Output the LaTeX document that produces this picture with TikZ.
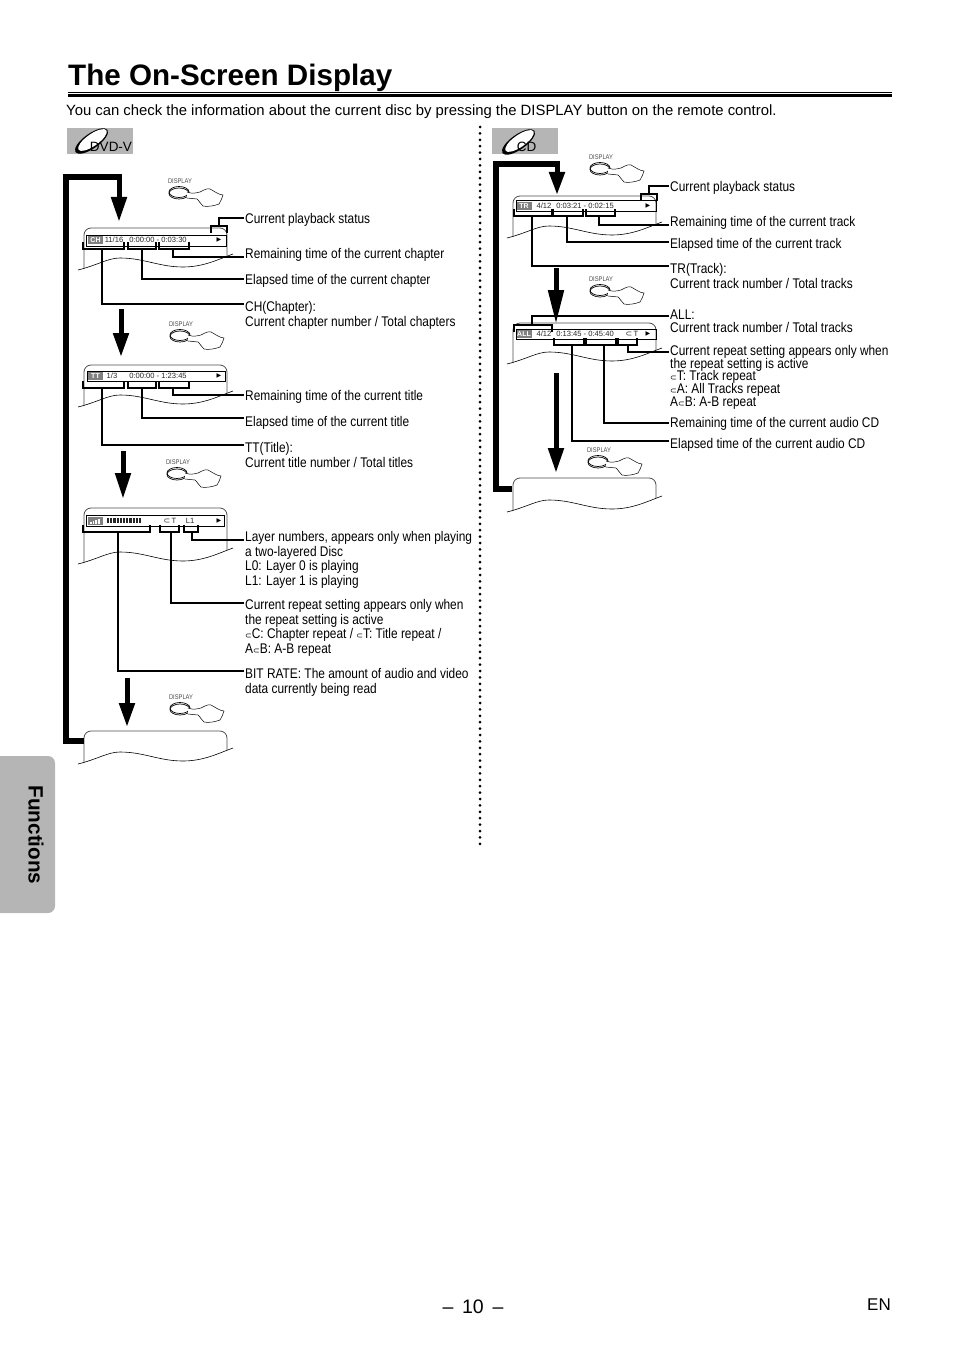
\documentclass[tikz,border=0pt]{standalone}
\usepackage{fontspec}
\setmainfont{Liberation Sans}
\newfontfamily\narrowfont[FakeStretch=0.85]{Liberation Sans}
\newfontfamily\symfont{DejaVu Sans}
\usetikzlibrary{arrows.meta,positioning}
\definecolor{tabgray}{HTML}{B5B5B5}
\definecolor{taggray}{HTML}{808080}
\newcommand{\rptmark}{{\symfont\fontsize{8}{8}\selectfont ⊂}}
\newcommand{\tightlines}{\lineskiplimit=-10pt\relax}
\tikzset{
  lbl/.style={anchor=north west,inner sep=0pt,align=left,font=\narrowfont\fontsize{14}{14.8}\selectfont},
  lbltight/.style={lbl,font=\narrowfont\fontsize{14}{12.8}\selectfont\tightlines},
  lead/.style={line width=1.5pt,black},
  bracket/.style={line width=1.5pt,black,miter limit=10},
  bigdown/.style={line width=5pt,-{Triangle[length=#1,width=15pt]}},
  loopline/.style={line width=5.5pt},
  osdbar/.style={draw,line width=0.8pt},
  osdtxt/.style={inner sep=0pt,font=\fontsize{7.6}{8}\selectfont,text=black!85},
  osdtag/.style={fill=taggray,text=white,inner sep=0pt,minimum width=15pt,minimum height=8pt,font=\bfseries\fontsize{7}{8}\selectfont},
  play/.style={inner sep=0pt,font=\symfont\fontsize{6}{6}\selectfont},
  badge/.style={fill=tabgray,draw=none},
  badgetxt/.style={inner sep=0pt,font=\fontsize{13.5}{14}\selectfont,text=black},
  display/.pic={
    \node[inner sep=0pt,text=black!70,font=\narrowfont\fontsize{6.8}{7}\selectfont] (-lab) at (1,-11) {DISPLAY};
    \draw[line width=0.7pt] (0,0) ellipse (10 and 5.5);
    \draw[line width=0.7pt] (0,1.5) ellipse (10 and 5.5);
    \draw[line width=0.5pt,fill=white] (8,0) .. controls (13,2) and (17,1) .. (21,0) .. controls (25,-2) and (28,-4) .. (31,-3)
      .. controls (35,-1) and (40,3) .. (44,3) .. controls (43,6) and (42,9) .. (40,12) .. controls (35,14) and (28,15) .. (24,14)
      .. controls (21,12) and (20,8) .. (18,7) -- (8,6);
  }
}
\begin{document}
\begin{tikzpicture}[x=1pt,y=-1pt]
\useasboundingbox (0,0) rectangle (954,1348);

% heading
\node[anchor=base west,inner sep=0pt,font=\bfseries\fontsize{29.6}{30}\selectfont] (title) at (68,85.5) {The On-Screen Display};
\draw[line width=0.9pt] (68,92.7) -- (892,92.7);
\draw[line width=3pt] (68,96) -- (892,96);
\node[anchor=west,inner sep=0pt,font=\fontsize{14.86}{15}\selectfont] (intro) at (66,111.5) {You can check the information about the current disc by pressing the DISPLAY button on the remote control.};

% side tab and page footer
\fill[tabgray,rounded corners=7pt] (-10,756) rectangle (55,913);
\node[rotate=-90,inner sep=0pt,font=\bfseries\fontsize{20.7}{22}\selectfont] (tabtext) at (36,835) {Functions};
\node[inner sep=0pt,font=\fontsize{19.5}{20}\selectfont] (pageno) at (473,1307) {-- \,10\, --};
\node[inner sep=0pt,font=\fontsize{17}{18}\selectfont] (lang) at (879,1305) {EN};

% dotted divider
\draw[line width=3pt,line cap=round,dash pattern=on 0pt off 6.4pt] (480,127) -- (480,845);

% disc badges
\fill[badge] (67,128) rectangle (133,154);
\fill[badge] (492,128) rectangle (558,154);
\foreach \x/\y in {91.5/141,518.5/142} {
  \fill[black,rotate around={35:(\x,\y)}] (\x,\y) ellipse (19.5 and 7.5);
  \fill[white,rotate around={35:(\x+1,\y-1)}] (\x+1,\y-1) ellipse (17 and 6);
}
\node[badgetxt] (dvdtxt) at (111,147) {DVD-V};
\node[badgetxt] (cdtxt) at (526.5,147) {CD};

% screens
\foreach \x/\y/\d in {84/228/41, 84/365/41, 84/508/55, 84/731/32, 513/196/41, 513/323/40, 513/478/33} {
  \draw[line width=0.8pt,black!70,rounded corners=7pt] (\x,\y+\d) -- (\x,\y) -- (\x+143,\y) -- (\x+143,\y+\d-13);
  \draw[line width=0.6pt] (\x-6,\y+\d+1) .. controls (\x+14,\y+\d-4) and (\x+24,\y+\d-11) .. (\x+36,\y+\d-11)
    .. controls (\x+60,\y+\d-11) and (\x+75,\y+\d-2) .. (\x+99,\y+\d-2)
    .. controls (\x+120,\y+\d-2) and (\x+135,\y+\d-10) .. (\x+149,\y+\d-15);
}

% osd bars
\foreach \xa/\ya/\xb/\yb in {86/235/226/246, 87/371/225/381, 86/515/224/526, 516/200/656/211, 516/329/656/339}
  \draw[osdbar] (\xa,\ya) rectangle (\xb,\yb);
\node[osdtag] (tagCh) at (95.5,240) {CH};
\node[osdtxt] (numCh) at (114,240) {11/16};
\node[osdtxt] (timeCh) at (158,240) {0:00:00 - 0:03:30};
\node[play] (playCh) at (219,240) {▶};
\node[osdtag] (tagTt) at (95.5,376) {TT};
\node[osdtxt] (numTt) at (112,376) {1/3};
\node[osdtxt] (timeTt) at (158,376) {0:00:00 - 1:23:45};
\node[play] (playTt) at (219,376) {▶};
\node[osdtag] (tagBit) at (95,520.5) {};
\foreach \i in {0,1,2,3} \fill[white] (90+\i*2.7,523.5) rectangle (91.6+\i*2.7,522-\i*0.9);
\foreach \i in {0,...,10} \fill[black!85] (107+\i*3.2,517.5) rectangle +(2.1,5.5);
\node[osdtxt] (rptBit) at (170,520.5) {\rptmark\,T};
\node[osdtxt] (layBit) at (190,520.5) {L1};
\node[play] (playBit) at (219,520.5) {▶};
\node[osdtag] (tagTr) at (524,206) {TR};
\node[osdtxt] (numTr) at (544,205.5) {4/12};
\node[osdtxt] (timeTr) at (585,205.5) {0:03:21 - 0:02:15};
\node[play] (playTr) at (648,205.5) {▶};
\node[osdtag] (tagAll) at (524,334) {ALL};
\node[osdtxt] (numAll) at (544,333.5) {4/12};
\node[osdtxt] (timeAll) at (585,333.5) {0:13:45 - 0:45:40};
\node[osdtxt] (rptAll) at (632,333.5) {\rptmark\,T};
\node[play] (playAll) at (648,333.5) {▶};

% display buttons
\foreach \n/\x/\y in {dispA/179/192, dispB/180/335, dispC/177/473, dispD/180/708, dispR/600/168, dispS/600/290, dispT/598/461}
  \pic (\n) at (\x,\y) {display};

% brackets
\foreach \xa/\xb/\yb in {83/124/249, 128/156/249, 159/189/249, 83/124/388, 128/156/388, 159/189/388, 83/150/532, 160/179/532, 184/198/532, 514/552/216, 553/583/216, 586/615/216, 554/584/345, 586/616/345, 618/637/345}
  \draw[bracket] (\xa,\yb-7) -- (\xa,\yb) -- (\xb,\yb) -- (\xb,\yb-7);
\foreach \xa/\xb/\yt in {211/227/226, 641/657/194, 514/552/325}
  \draw[bracket] (\xa,\yt+7) -- (\xa,\yt) -- (\xb,\yt) -- (\xb,\yt+7);

% labels on the left
\node[lbl] (lblStA) at (245,213) {Current playback status};
\node[lbl] (lblRemA) at (245,248) {Remaining time of the current chapter};
\node[lbl] (lblElaA) at (245,274) {Elapsed time of the current chapter};
\node[lbl] (lblChA) at (245,301) {CH(Chapter):\\Current chapter number / Total chapters};
\node[lbl] (lblRemB) at (245,390) {Remaining time of the current title};
\node[lbl] (lblElaB) at (245,416) {Elapsed time of the current title};
\node[lbl] (lblTtB) at (245,442) {TT(Title):\\Current title number / Total titles};
\node[lbl] (lblLayC) at (245,531) {Layer numbers, appears only when playing\\a two-layered Disc\\L0: Layer 0 is playing\\L1: Layer 1 is playing};
\node[lbl] (lblRepC) at (245,599) {Current repeat setting appears only when\\the repeat setting is active\\\rptmark C: Chapter repeat / \rptmark T: Title repeat /\\A\rptmark B: A-B repeat};
\node[lbl] (lblBitC) at (245,668) {BIT RATE: The amount of audio and video\\data currently being read};

% labels on the right
\node[lbl] (lblStR) at (670,181) {Current playback status};
\node[lbl] (lblRemR) at (670,216) {Remaining time of the current track};
\node[lbl] (lblElaR) at (670,238) {Elapsed time of the current track};
\node[lbl] (lblTrR) at (670,263) {TR(Track):\\Current track number / Total tracks};
\node[lbltight] (lblAllS) at (670,310) {ALL:\\Current track number / Total tracks};
\node[lbltight] (lblRepS) at (670,345) {Current repeat setting appears only when\\the repeat setting is active\\\rptmark T: Track repeat\\\rptmark A: All Tracks repeat\\A\rptmark B: A-B repeat};
\node[lbl] (lblRemS) at (670,417) {Remaining time of the current audio CD};
\node[lbl] (lblElaS) at (670,438) {Elapsed time of the current audio CD};

% leaders
\foreach \n/\x/\y in {stA/219/226, remA/173/249, elaA/142/249, chA/102/249, remB/173/388, elaB/142/388, ttB/102/388, layC/192/532, repC/171/532, bitC/118/532, stR/649/194, remR/599/216, elaR/567/216, trR/532/216, allS/532/325, repS/628/345, remS/604/345, elaS/572/345}
  \coordinate (\n) at (\x,\y);
\foreach \from/\to/\d in {stA/lblStA/5, remA/lblRemA/9, elaA/lblElaA/5, chA/lblChA/3, remB/lblRemB/5, elaB/lblElaB/2, ttB/lblTtB/3, layC/lblLayC/9, repC/lblRepC/4, bitC/lblBitC/3, stR/lblStR/5, remR/lblRemR/9, elaR/lblElaR/4, trR/lblTrR/3, allS/lblAllS/6, repS/lblRepS/7, remS/lblRemS/6, elaS/lblElaS/3}
  \draw[lead] (\from) |- ([xshift=-1.5pt,yshift=-\d pt]\to.north west);

% big loops and arrows
\foreach \n/\x/\ya/\yb/\h in {arrA/119/174/222/25pt, arrB/121/309/357/24pt, arrC/123/451/499/26pt, arrD/127/678/727/24pt, arrR/557/161/195/23pt, arrS/556/268/324/34pt, arrT/556/373/473/25pt} {
  \coordinate (\n s) at (\x,\ya);
  \coordinate (\n e) at (\x,\yb);
  \draw[bigdown=\h] (\n s) -- (\n e);
}
\coordinate (loopAtop) at (121.5,177);
\coordinate (loopAbot) at (66,741);
\coordinate (loopAend) at (84,741);
\draw[loopline] (loopAtop) -| (loopAbot) -- (loopAend);
\coordinate (loopRtop) at (559.5,164);
\coordinate (loopRbot) at (496,489);
\coordinate (loopRend) at (512,489);
\draw[loopline] (loopRtop) -| (loopRbot) -- (loopRend);
\end{tikzpicture}
\end{document}
